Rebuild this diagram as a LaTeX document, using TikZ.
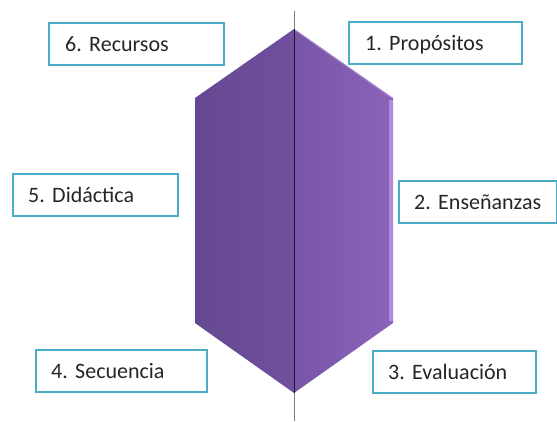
\documentclass[tikz,border=0pt]{standalone}
\usepackage{fontspec}
\setmainfont{Carlito}
\frenchspacing
\definecolor{boxline}{HTML}{4BACC6}
\definecolor{txt}{HTML}{262626}
\definecolor{hexL1}{HTML}{654892}
\definecolor{hexL2}{HTML}{70509D}
\definecolor{hexR1}{HTML}{7855A7}
\definecolor{hexR2}{HTML}{8A63B9}
\definecolor{bevel}{HTML}{B18BDD}
\definecolor{axis}{HTML}{7F7F7F}
\begin{document}
\begin{tikzpicture}[x=1pt,y=-1pt,
  labelbox/.style={draw=boxline,line width=2.4pt,fill=white,rectangle,minimum height=42pt,
    text=txt,font=\fontsize{22}{24}\selectfont,anchor=north west,inner sep=0pt,align=left,text depth=0pt}]
\useasboundingbox (0,0) rectangle (557,421);
% hexagon coordinates
\coordinate (top) at (294,29);
\coordinate (ul) at (195,98);
\coordinate (ll) at (195,323);
\coordinate (bot) at (294,393);
\coordinate (ur) at (393,98);
\coordinate (lr) at (393,323);
\coordinate (axtop) at (294,11);
\coordinate (axbot) at (294,421);
% left half
\shade[left color=hexL1,right color=hexL2] (top) -- (ul) -- (ll) -- (bot) -- cycle;
% right half
\shade[left color=hexR1,right color=hexR2] (top) -- (ur) -- (lr) -- (bot) -- cycle;
% bevel on right edge
\fill[bevel] (389,100) rectangle (393,321);
\draw[hexR2!75!white,line width=1pt] (295,30) -- (392,98);
% axis
\draw[axis,line width=1pt] (axtop) -- (top);
\draw[black!70!hexL1,line width=1pt] (top) -- (bot);
\draw[axis,line width=1pt] (bot) -- (axbot);
% boxes
\node[labelbox,minimum width=175pt,text width=163pt] (b6) at (48,22) {\hspace*{10pt}6. Recursos};
\node[labelbox,minimum width=173pt,text width=161pt] (b1) at (348,21) {\hspace*{10pt}1. Propósitos};
\node[labelbox,minimum width=158pt,text width=148pt] (b2) at (398,180) {\hspace*{10pt}2. Enseñanzas};
\node[labelbox,minimum width=165pt,text width=155pt] (b5) at (12,173) {\hspace*{10pt}5. Didáctica};
\node[labelbox,minimum width=171pt,text width=161pt] (b4) at (35,349) {\hspace*{10pt}4. Secuencia};
\node[labelbox,minimum width=163pt,text width=153pt] (b3) at (372,350) {\hspace*{10pt}3. Evaluación};
\end{tikzpicture}
\end{document}
